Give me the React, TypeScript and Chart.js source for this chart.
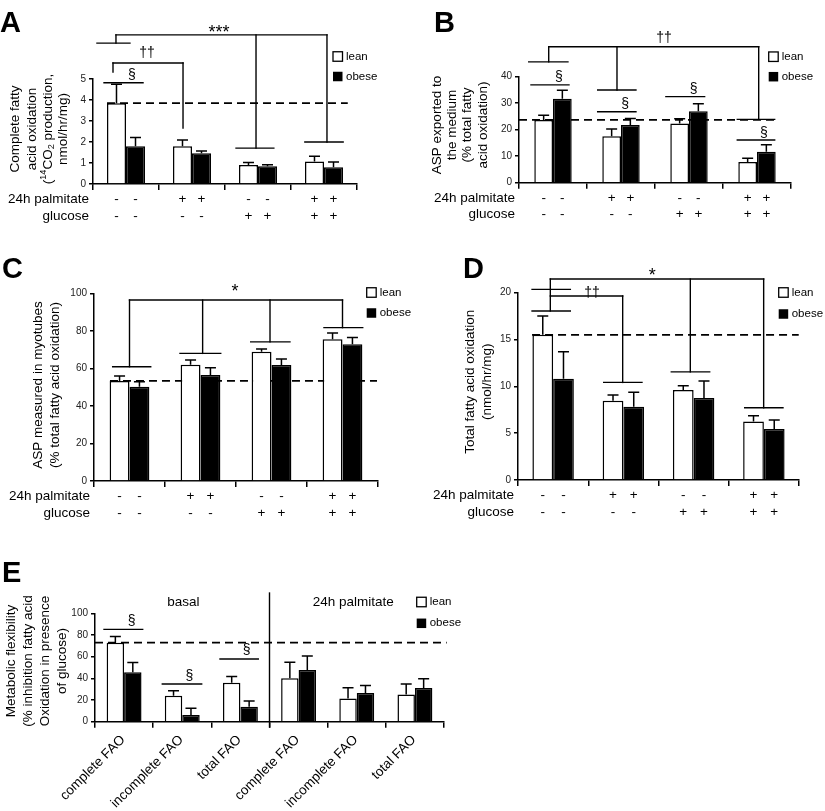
import React, { useEffect, useRef } from "react";
import { Chart, registerables } from "chart.js";

Chart.register(...registerables);

const W = 825;
const H = 811;
const FONT = '"Liberation Sans", Arial, Helvetica, sans-serif';
Chart.defaults.font.family = FONT;

// ---------------- data ----------------
const seriesNames = ["lean", "obese"];
const treatmentGroups = ["control", "24h palmitate", "glucose", "24h palmitate + glucose"];
const rowLabels = ["24h palmitate", "glucose"];
const palmitateSigns = ["-", "+", "-", "+"];
const glucoseSigns = ["-", "-", "+", "+"];

// A: complete fatty acid oxidation
const aLean = [3.85, 1.8, 0.9, 1.07];
const aLeanSem = [0.9, 0.3, 0.12, 0.25];
const aObese = [1.8, 1.47, 0.85, 0.8];
const aObeseSem = [0.42, 0.1, 0.07, 0.25];

// B: ASP exported to the medium
const bLean = [23.7, 17.5, 22.3, 7.8];
const bLeanSem = [1.8, 2.8, 1.8, 1.4];
const bObese = [31.7, 21.8, 27.0, 11.7];
const bObeseSem = [3.2, 2.4, 2.8, 2.6];

// C: ASP measured in myotubes
const cLean = [53.3, 62.0, 68.8, 75.5];
const cLeanSem = [2.7, 2.5, 1.5, 3.3];
const cObese = [50.2, 56.5, 61.8, 72.8];
const cObeseSem = [2.7, 3.9, 3.2, 3.7];

// D: total fatty acid oxidation
const dLean = [15.5, 8.47, 9.6, 6.25];
const dLeanSem = [2.0, 0.6, 0.47, 0.62];
const dObese = [10.8, 7.83, 8.75, 5.45];
const dObeseSem = [2.9, 1.53, 1.81, 0.95];

// E: metabolic flexibility
const eCategories = ["complete FAO", "incomplete FAO", "total FAO", "complete FAO", "incomplete FAO", "total FAO"];
const eSections = ["basal", "24h palmitate"];
const eLean = [72.9, 24.0, 36.0, 40.0, 21.3, 25.0];
const eLeanSem = [5.6, 4.6, 5.6, 14.8, 10.1, 9.8];
const eObese = [45.6, 6.2, 13.8, 47.7, 26.5, 31.1];
const eObeseSem = [8.9, 6.1, 5.2, 12.9, 6.8, 8.6];

// ---------------- annotations (data coordinates: category index, value) ----------------
type Seg = [number, number, number, number];
type Mark = [number, number, string];

const aBrackets: Seg[] = [
  [-0.333, 4.82, 0.258, 4.82],
  [-0.197, 5.76, 0.864, 5.76],
  [-0.197, 5.76, -0.197, 5.33],
  [0.864, 5.76, 0.864, 2.67],
  [-0.152, 7.1, 3.045, 7.1],
  [-0.152, 7.1, -0.152, 6.71],
  [-0.44, 6.71, 0.06, 6.71],
  [1.97, 7.1, 1.97, 1.71],
  [1.667, 1.71, 2.24, 1.71],
  [3.045, 7.1, 3.045, 2.0],
  [2.71, 2.0, 3.29, 2.0],
];
const aMarks: Mark[] = [[0.09, 5.19, "§"], [0.318, 6.24, "††"], [1.41, 7.48, "***"]];

const bBrackets: Seg[] = [
  [-0.324, 36.9, 0.235, 36.9],
  [0.657, 26.8, 1.22, 26.8],
  [1.66, 32.5, 2.23, 32.5],
  [2.71, 16.1, 3.26, 16.1],
  [-0.063, 51.3, 3.025, 51.3],
  [-0.063, 51.3, -0.063, 45.6],
  [-0.357, 45.6, 0.22, 45.6],
  [0.941, 51.3, 0.941, 35.0],
  [0.657, 35.0, 1.22, 35.0],
  [3.025, 51.3, 3.025, 23.9],
  [2.71, 23.9, 3.26, 23.9],
];
const bMarks: Mark[] = [[0.088, 39.9, "§"], [1.06, 29.7, "§"], [2.07, 35.4, "§"], [3.1, 18.8, "§"], [1.632, 54.6, "††"]];

const cBrackets: Seg[] = [
  [0, 96.4, 3.0, 96.4],
  [0, 96.4, 0, 60.9],
  [-0.237, 60.9, 0.299, 60.9],
  [1.03, 96.4, 1.03, 68.0],
  [0.711, 68.0, 1.285, 68.0],
  [1.979, 96.4, 1.979, 74.1],
  [1.707, 74.1, 2.26, 74.1],
  [3.0, 96.4, 3.0, 81.7],
  [2.739, 81.7, 3.285, 81.7],
];
const cMarks: Mark[] = [[1.486, 103.9, "*"]];

const dBrackets: Seg[] = [
  [-0.04, 21.46, 2.997, 21.46],
  [-0.04, 21.46, -0.04, 18.05],
  [-0.3, 20.36, 0.245, 20.36],
  [1.953, 21.46, 1.953, 11.55],
  [1.682, 11.55, 2.229, 11.55],
  [2.997, 21.46, 2.997, 7.71],
  [2.727, 7.71, 3.272, 7.71],
  [-0.04, 19.65, 0.99, 19.65],
  [-0.3, 18.05, 0.245, 18.05],
  [0.99, 19.65, 0.99, 10.42],
  [0.72, 10.42, 1.265, 10.42],
];
const dMarks: Mark[] = [[1.41, 22.4, "*"], [0.553, 19.94, "††"]];

const eBrackets: Seg[] = [
  [-0.345, 85.2, 0.32, 85.2],
  [0.657, 34.8, 1.334, 34.8],
  [1.649, 57.8, 2.307, 57.8],
  [2.5, 118.7, 2.5, -4.9],
];
const eMarks: Mark[] = [[0.131, 92.3, "§"], [1.121, 42.2, "§"], [2.108, 65.5, "§"]];
const eSectionPos: [number, number][] = [[1.018, 109.8], [3.94, 109.8]];

// ---------------- panel layout ----------------
interface Panel {
  key: string;
  letterAt: [number, number];
  area: { left: number; right: number; top: number; bottom: number };
  labels: string[];
  lean: number[];
  leanSem: number[];
  obese: number[];
  obeseSem: number[];
  yMax: number;
  yStep: number;
  catPct: number;
  ref: { value: number; from: number; to: number };
  segs: Seg[];
  marks: Mark[];
  title: string[];
  titleX: number[];
  titleY: number;
  legend: { x: number; yLean: number; yObese: number };
  signRows: boolean;
  rotated: boolean;
}

const panels: Panel[] = [
  {
    key: "A", letterAt: [0, 32],
    area: { left: 93, right: 357, top: 79, bottom: 184 },
    labels: treatmentGroups, lean: aLean, leanSem: aLeanSem, obese: aObese, obeseSem: aObeseSem,
    yMax: 5, yStep: 1, catPct: 0.576,
    ref: { value: aLean[0], from: -0.288, to: 3.36 },
    segs: aBrackets, marks: aMarks,
    title: ["Complete fatty", "acid oxidation", "(^{14}CO_{2} production,", "nmol/hr/mg)"],
    titleX: [15, 32, 48, 63], titleY: 129,
    legend: { x: 333, yLean: 56.5, yObese: 76.5 },
    signRows: true, rotated: false,
  },
  {
    key: "B", letterAt: [434, 32],
    area: { left: 519, right: 791, top: 76.7, bottom: 182.7 },
    labels: treatmentGroups, lean: bLean, leanSem: bLeanSem, obese: bObese, obeseSem: bObeseSem,
    yMax: 40, yStep: 10, catPct: 0.55,
    ref: { value: bLean[0], from: -0.5, to: 3.26 },
    segs: bBrackets, marks: bMarks,
    title: ["ASP exported to", "the medium", "(% total fatty", "acid oxidation)"],
    titleX: [437, 452, 467, 483.7], titleY: 125,
    legend: { x: 768.7, yLean: 56.7, yObese: 76.7 },
    signRows: true, rotated: false,
  },
  {
    key: "C", letterAt: [2, 278],
    area: { left: 94, right: 378, top: 293.3, bottom: 481 },
    labels: treatmentGroups, lean: cLean, leanSem: cLeanSem, obese: cObese, obeseSem: cObeseSem,
    yMax: 100, yStep: 20, catPct: 0.56,
    ref: { value: cLean[0], from: -0.275, to: 3.486 },
    segs: cBrackets, marks: cMarks,
    title: ["ASP measured in myotubes", "(% total fatty acid oxidation)"],
    titleX: [38, 55], titleY: 385,
    legend: { x: 366.7, yLean: 292.5, yObese: 313 },
    signRows: true, rotated: false,
  },
  {
    key: "D", letterAt: [463, 278],
    area: { left: 518, right: 799, top: 292.7, bottom: 480 },
    labels: treatmentGroups, lean: dLean, leanSem: dLeanSem, obese: dObese, obeseSem: dObeseSem,
    yMax: 20, yStep: 5, catPct: 0.59,
    ref: { value: dLean[0], from: -0.3, to: 3.496 },
    segs: dBrackets, marks: dMarks,
    title: ["Total fatty acid oxidation", "(nmol/hr/mg)"],
    titleX: [470.3, 487], titleY: 381.7,
    legend: { x: 778.7, yLean: 292.5, yObese: 314 },
    signRows: true, rotated: false,
  },
  {
    key: "E", letterAt: [2, 582],
    area: { left: 95, right: 444, top: 613.3, bottom: 721.7 },
    labels: eCategories, lean: eLean, leanSem: eLeanSem, obese: eObese, obeseSem: eObeseSem,
    yMax: 100, yStep: 20, catPct: 0.6,
    ref: { value: eLean[0], from: -0.5, to: 5.546 },
    segs: eBrackets, marks: eMarks,
    title: ["Metabolic flexibility", "(% inhibition fatty acid", "Oxidation in presence", "of glucose)"],
    titleX: [11.5, 28.5, 45.5, 62], titleY: 661,
    legend: { x: 416.7, yLean: 602, yObese: 623.3 },
    signRows: false, rotated: true,
  },
];

// ---------------- drawing helpers ----------------
function parseRich(s: string) {
  const parts: { t: string; kind: "n" | "sup" | "sub" }[] = [];
  const re = /(\^\{[^}]*\}|_\{[^}]*\})/g;
  let last = 0;
  let m: RegExpExecArray | null;
  while ((m = re.exec(s))) {
    if (m.index > last) parts.push({ t: s.slice(last, m.index), kind: "n" });
    const tok = m[0];
    parts.push({ t: tok.slice(2, -1), kind: tok[0] === "^" ? "sup" : "sub" });
    last = m.index + tok.length;
  }
  if (last < s.length) parts.push({ t: s.slice(last), kind: "n" });
  return parts;
}

function drawRichCentered(ctx: CanvasRenderingContext2D, s: string, size: number) {
  const parts = parseRich(s);
  const small = size * 0.68;
  let total = 0;
  const widths = parts.map((p) => {
    ctx.font = `${p.kind === "n" ? size : small}px ${FONT}`;
    const w = ctx.measureText(p.t).width;
    total += w;
    return w;
  });
  let x = -total / 2;
  ctx.textAlign = "left";
  ctx.textBaseline = "middle";
  parts.forEach((p, i) => {
    ctx.font = `${p.kind === "n" ? size : small}px ${FONT}`;
    const dy = p.kind === "sup" ? -size * 0.32 : p.kind === "sub" ? size * 0.28 : 0;
    ctx.fillText(p.t, x, dy);
    x += widths[i];
  });
}

function makeChart(canvas: HTMLCanvasElement, p: Panel) {
  const YW = 40;
  const XH = 10;
  const vals = [p.lean, p.obese];
  const sems = [p.leanSem, p.obeseSem];

  const deco = {
    id: "deco" + p.key,
    beforeDatasetsDraw(chart: any) {
      const ctx = chart.ctx as CanvasRenderingContext2D;
      const xs = chart.scales.x;
      const ys = chart.scales.y;
      ctx.save();
      ctx.strokeStyle = "#000";
      ctx.lineWidth = 1.8;
      ctx.setLineDash([8, 5]);
      const yy = ys.getPixelForValue(p.ref.value);
      ctx.beginPath();
      ctx.moveTo(xs.getPixelForValue(p.ref.from), yy);
      ctx.lineTo(xs.getPixelForValue(p.ref.to), yy);
      ctx.stroke();
      ctx.restore();
    },
    afterDatasetsDraw(chart: any) {
      const ctx = chart.ctx as CanvasRenderingContext2D;
      const ys = chart.scales.y;
      ctx.save();
      ctx.strokeStyle = "#000";
      ctx.lineWidth = 1.5;
      ctx.lineCap = "butt";
      for (let d = 0; d < 2; d++) {
        const meta = chart.getDatasetMeta(d);
        meta.data.forEach((bar: any, i: number) => {
          const x = bar.x;
          const y0 = ys.getPixelForValue(vals[d][i]);
          const y1 = ys.getPixelForValue(vals[d][i] + sems[d][i]);
          ctx.beginPath();
          ctx.moveTo(x, y0);
          ctx.lineTo(x, y1);
          ctx.moveTo(x - 5.5, y1);
          ctx.lineTo(x + 5.5, y1);
          ctx.stroke();
        });
      }
      ctx.restore();
    },
    afterDraw(chart: any) {
      const ctx = chart.ctx as CanvasRenderingContext2D;
      const xs = chart.scales.x;
      const ys = chart.scales.y;
      const area = chart.chartArea;
      ctx.save();
      ctx.fillStyle = "#000";
      ctx.strokeStyle = "#000";

      // significance brackets
      ctx.lineWidth = 1.4;
      ctx.lineCap = "square";
      p.segs.forEach(([x0, y0, x1, y1]) => {
        ctx.beginPath();
        ctx.moveTo(xs.getPixelForValue(x0), ys.getPixelForValue(y0));
        ctx.lineTo(xs.getPixelForValue(x1), ys.getPixelForValue(y1));
        ctx.stroke();
      });
      p.marks.forEach(([mx, my, s]) => {
        const star = s.includes("*");
        const size = star ? 18 : 14;
        ctx.font = `${size}px ${FONT}`;
        ctx.textAlign = "center";
        ctx.textBaseline = "alphabetic";
        const k = star ? 0.6 : 0.27;
        ctx.fillText(s, xs.getPixelForValue(mx), ys.getPixelForValue(my) + k * size);
      });

      // panel letter
      ctx.font = `bold 29px ${FONT}`;
      ctx.textAlign = "left";
      ctx.textBaseline = "alphabetic";
      ctx.fillText(p.key, p.letterAt[0], p.letterAt[1]);

      // y-axis title (rotated)
      p.title.forEach((line, i) => {
        ctx.save();
        ctx.translate(p.titleX[i], p.titleY);
        ctx.rotate(-Math.PI / 2);
        drawRichCentered(ctx, line, 13.5);
        ctx.restore();
      });

      // legend
      const lg = p.legend;
      const bs = 9.5;
      ctx.lineWidth = 1.3;
      ctx.fillStyle = "#fff";
      ctx.fillRect(lg.x, lg.yLean - bs / 2, bs, bs);
      ctx.strokeRect(lg.x, lg.yLean - bs / 2, bs, bs);
      ctx.fillStyle = "#000";
      ctx.fillRect(lg.x, lg.yObese - bs / 2, bs, bs);
      ctx.font = `11.5px ${FONT}`;
      ctx.textAlign = "left";
      ctx.textBaseline = "middle";
      ctx.fillText(seriesNames[0], lg.x + bs + 3.5, lg.yLean);
      ctx.fillText(seriesNames[1], lg.x + bs + 3.5, lg.yObese);

      // treatment rows
      if (p.signRows) {
        ctx.font = `13.5px ${FONT}`;
        ctx.textBaseline = "middle";
        const rowsY = [area.bottom + 15.5, area.bottom + 32];
        const rows = [palmitateSigns, glucoseSigns];
        rows.forEach((signs, r) => {
          ctx.textAlign = "right";
          ctx.fillText(rowLabels[r], area.left - 4, rowsY[r]);
          ctx.textAlign = "center";
          for (let d = 0; d < 2; d++) {
            chart.getDatasetMeta(d).data.forEach((bar: any, i: number) => {
              ctx.fillText(signs[i], bar.x, rowsY[r]);
            });
          }
        });
      }

      // rotated category labels + section headers (panel E)
      if (p.rotated) {
        ctx.font = `13.5px ${FONT}`;
        p.labels.forEach((lab, i) => {
          ctx.save();
          ctx.translate(xs.getPixelForValue(i) - 1, area.bottom + 16);
          ctx.rotate(-Math.PI / 4);
          ctx.textAlign = "right";
          ctx.textBaseline = "middle";
          ctx.fillText(lab, 0, 0);
          ctx.restore();
        });
        ctx.textAlign = "center";
        ctx.textBaseline = "middle";
        eSections.forEach((s, i) => {
          ctx.fillText(s, xs.getPixelForValue(eSectionPos[i][0]), ys.getPixelForValue(eSectionPos[i][1]));
        });
      }
      ctx.restore();
    },
  };

  return new Chart(canvas, {
    type: "bar",
    data: {
      labels: p.labels,
      datasets: [
        {
          label: seriesNames[0],
          data: p.lean,
          backgroundColor: "#ffffff",
          borderColor: "#000000",
          borderWidth: 1.5,
          borderSkipped: "start",
          categoryPercentage: p.catPct,
          barPercentage: 1,
        },
        {
          label: seriesNames[1],
          data: p.obese,
          backgroundColor: "#000000",
          borderColor: "#000000",
          borderWidth: 1.5,
          borderSkipped: "start",
          categoryPercentage: p.catPct,
          barPercentage: 1,
        },
      ],
    },
    options: {
      responsive: false,
      animation: false,
      devicePixelRatio: 1,
      events: [],
      layout: {
        padding: {
          left: p.area.left - YW,
          right: W - p.area.right,
          top: p.area.top,
          bottom: H - p.area.bottom - XH,
        },
      },
      plugins: {
        legend: { display: false },
        tooltip: { enabled: false },
        title: { display: false },
      },
      scales: {
        x: {
          type: "category",
          offset: true,
          grid: {
            offset: true,
            drawOnChartArea: false,
            drawTicks: true,
            tickLength: 6,
            color: "#000",
            lineWidth: 1.5,
          },
          border: { display: true, color: "#000", width: 1.5 },
          ticks: { display: false },
          afterFit: (s: any) => {
            s.height = XH;
          },
        },
        y: {
          min: 0,
          max: p.yMax,
          ticks: {
            stepSize: p.yStep,
            font: { family: FONT, size: 10 },
            color: "#222",
            padding: 3,
          },
          grid: {
            drawOnChartArea: false,
            drawTicks: true,
            tickLength: 4,
            color: "#000",
            lineWidth: 1.5,
          },
          border: { display: true, color: "#000", width: 1.5 },
          afterFit: (s: any) => {
            s.width = YW;
          },
        },
      },
    } as any,
    plugins: [deco],
  });
}

function PanelCanvas({ panel }: { panel: Panel }) {
  const ref = useRef<HTMLCanvasElement | null>(null);
  useEffect(() => {
    if (!ref.current) return;
    const chart = makeChart(ref.current, panel);
    return () => chart.destroy();
  }, [panel]);
  return (
    <canvas
      ref={ref}
      width={W}
      height={H}
      style={{ position: "absolute", left: 0, top: 0, width: W, height: H }}
    />
  );
}

export default function App() {
  return (
    <div
      style={{
        position: "absolute",
        left: 0,
        top: 0,
        width: W,
        height: H,
        background: "#ffffff",
        overflow: "hidden",
      }}
    >
      {panels.map((p) => (
        <PanelCanvas key={p.key} panel={p} />
      ))}
    </div>
  );
}
